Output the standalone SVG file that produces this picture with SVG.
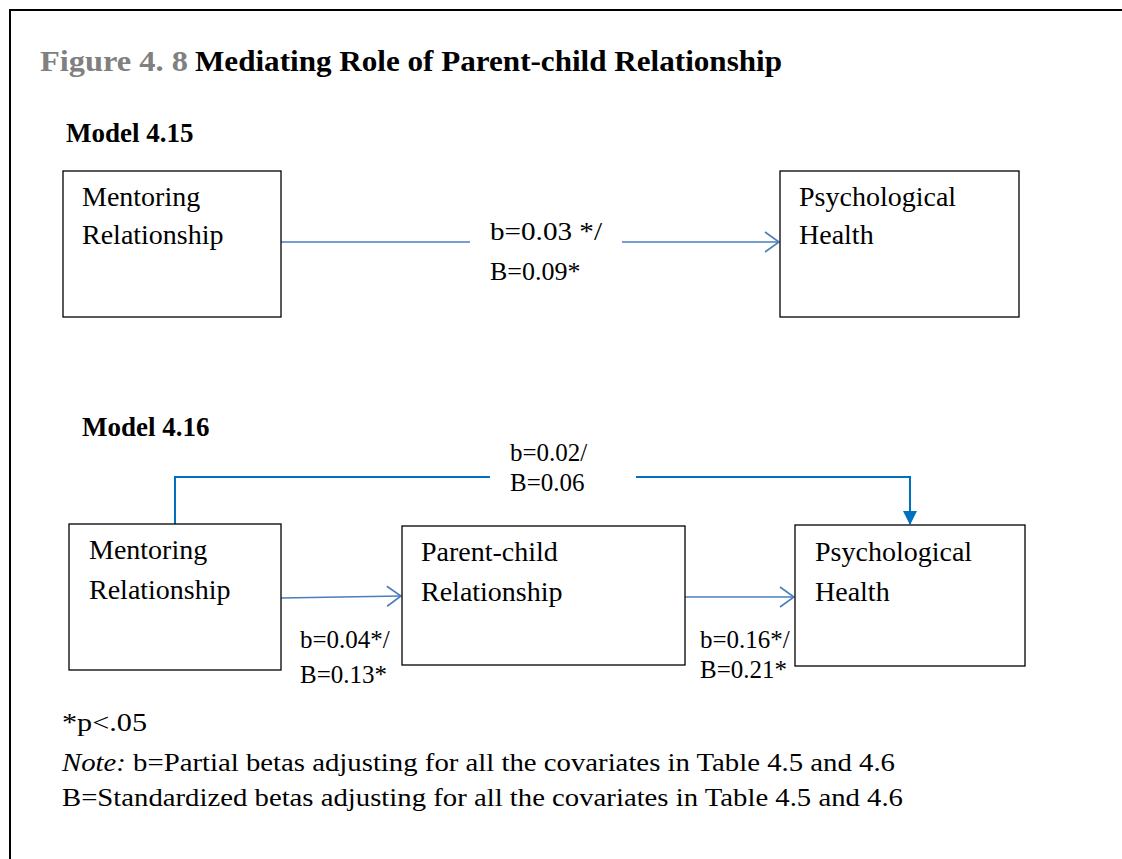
<svg xmlns="http://www.w3.org/2000/svg" width="1122" height="859" viewBox="0 0 1122 859">
<style>
.t{font-family:"Liberation Serif","Times New Roman",serif;fill:#000}
.gray{fill:#808080}
.node{font-size:28px}
.lbl{font-size:25px}
.box{fill:#fff;stroke:#000;stroke-width:1.3}
.c1{fill:none;stroke:#4a7ebb;stroke-width:1.6}
.c2{fill:none;stroke:#0070c0;stroke-width:2}
</style>
<defs>
<marker id="open" markerWidth="16" markerHeight="22" refX="15" refY="11" orient="auto" markerUnits="userSpaceOnUse">
<path d="M1,1 L15,11 L1,21" fill="none" stroke="#4a7ebb" stroke-width="1.6"/>
</marker>
<marker id="fill" markerWidth="14" markerHeight="14" refX="13" refY="7" orient="auto" markerUnits="userSpaceOnUse">
<path d="M0,0 L14,7 L0,14 Z" fill="#0070c0"/>
</marker>
</defs>
<rect width="1122" height="859" fill="#fff"/>
<path d="M10,859 V10 H1122" fill="none" stroke="#000" stroke-width="2"/>
<text class="t gray" x="40" y="71" font-size="30" font-weight="bold" textLength="148" lengthAdjust="spacingAndGlyphs">Figure 4. 8</text>
<text class="t" x="195" y="71" font-size="30" font-weight="bold" textLength="587" lengthAdjust="spacingAndGlyphs">Mediating Role of Parent-child Relationship</text>
<text class="t" x="66" y="142" font-size="27" font-weight="bold">Model 4.15</text>
<text class="t" x="82" y="436" font-size="27" font-weight="bold">Model 4.16</text>

<g id="connectors">
<path class="c1" d="M281,242 H470"/>
<path class="c1" d="M622,242 H779" marker-end="url(#open)"/>
<path class="c2" d="M175,524 V477 H490"/>
<path class="c2" d="M636,477 H910 V524" marker-end="url(#fill)"/>
<path class="c1" d="M281,598 L401,596" marker-end="url(#open)"/>
<path class="c1" d="M685,597 H794" marker-end="url(#open)"/>
<text class="t" font-size="26" x="490" y="240" textLength="112" lengthAdjust="spacingAndGlyphs">b=0.03 */</text>
<text class="t" font-size="26" x="490" y="280">B=0.09*</text>
<text class="t lbl" x="510" y="461">b=0.02/</text>
<text class="t lbl" x="510" y="491">B=0.06</text>
<text class="t lbl" x="300" y="648">b=0.04*/</text>
<text class="t lbl" x="300" y="683">B=0.13*</text>
<text class="t lbl" x="700" y="648">b=0.16*/</text>
<text class="t lbl" x="700" y="678">B=0.21*</text>
</g>

<g id="m415-mentoring">
<rect class="box" x="63" y="171" width="218" height="146"/>
<text class="t node" x="82" y="206">Mentoring</text>
<text class="t node" x="82" y="244">Relationship</text>
</g>
<g id="m415-psych">
<rect class="box" x="780" y="171" width="239" height="146"/>
<text class="t node" x="799" y="206">Psychological</text>
<text class="t node" x="799" y="244">Health</text>
</g>
<g id="m416-mentoring">
<rect class="box" x="69" y="524" width="212" height="146"/>
<text class="t node" x="89" y="559">Mentoring</text>
<text class="t node" x="89" y="599">Relationship</text>
</g>
<g id="m416-parent">
<rect class="box" x="402" y="526" width="283" height="139"/>
<text class="t node" x="421" y="561">Parent-child</text>
<text class="t node" x="421" y="601">Relationship</text>
</g>
<g id="m416-psych">
<rect class="box" x="795" y="525" width="230" height="141"/>
<text class="t node" x="815" y="561">Psychological</text>
<text class="t node" x="815" y="601">Health</text>
</g>

<text class="t" x="62" y="731" font-size="26" textLength="85" lengthAdjust="spacingAndGlyphs">*p&lt;.05</text>
<text class="t" x="62" y="771" font-size="26" textLength="833" lengthAdjust="spacingAndGlyphs"><tspan font-style="italic">Note:</tspan> b=Partial betas adjusting for all the covariates in Table 4.5 and 4.6</text>
<text class="t" x="62" y="806" font-size="26" textLength="841" lengthAdjust="spacingAndGlyphs">B=Standardized betas adjusting for all the covariates in Table 4.5 and 4.6</text>
</svg>
